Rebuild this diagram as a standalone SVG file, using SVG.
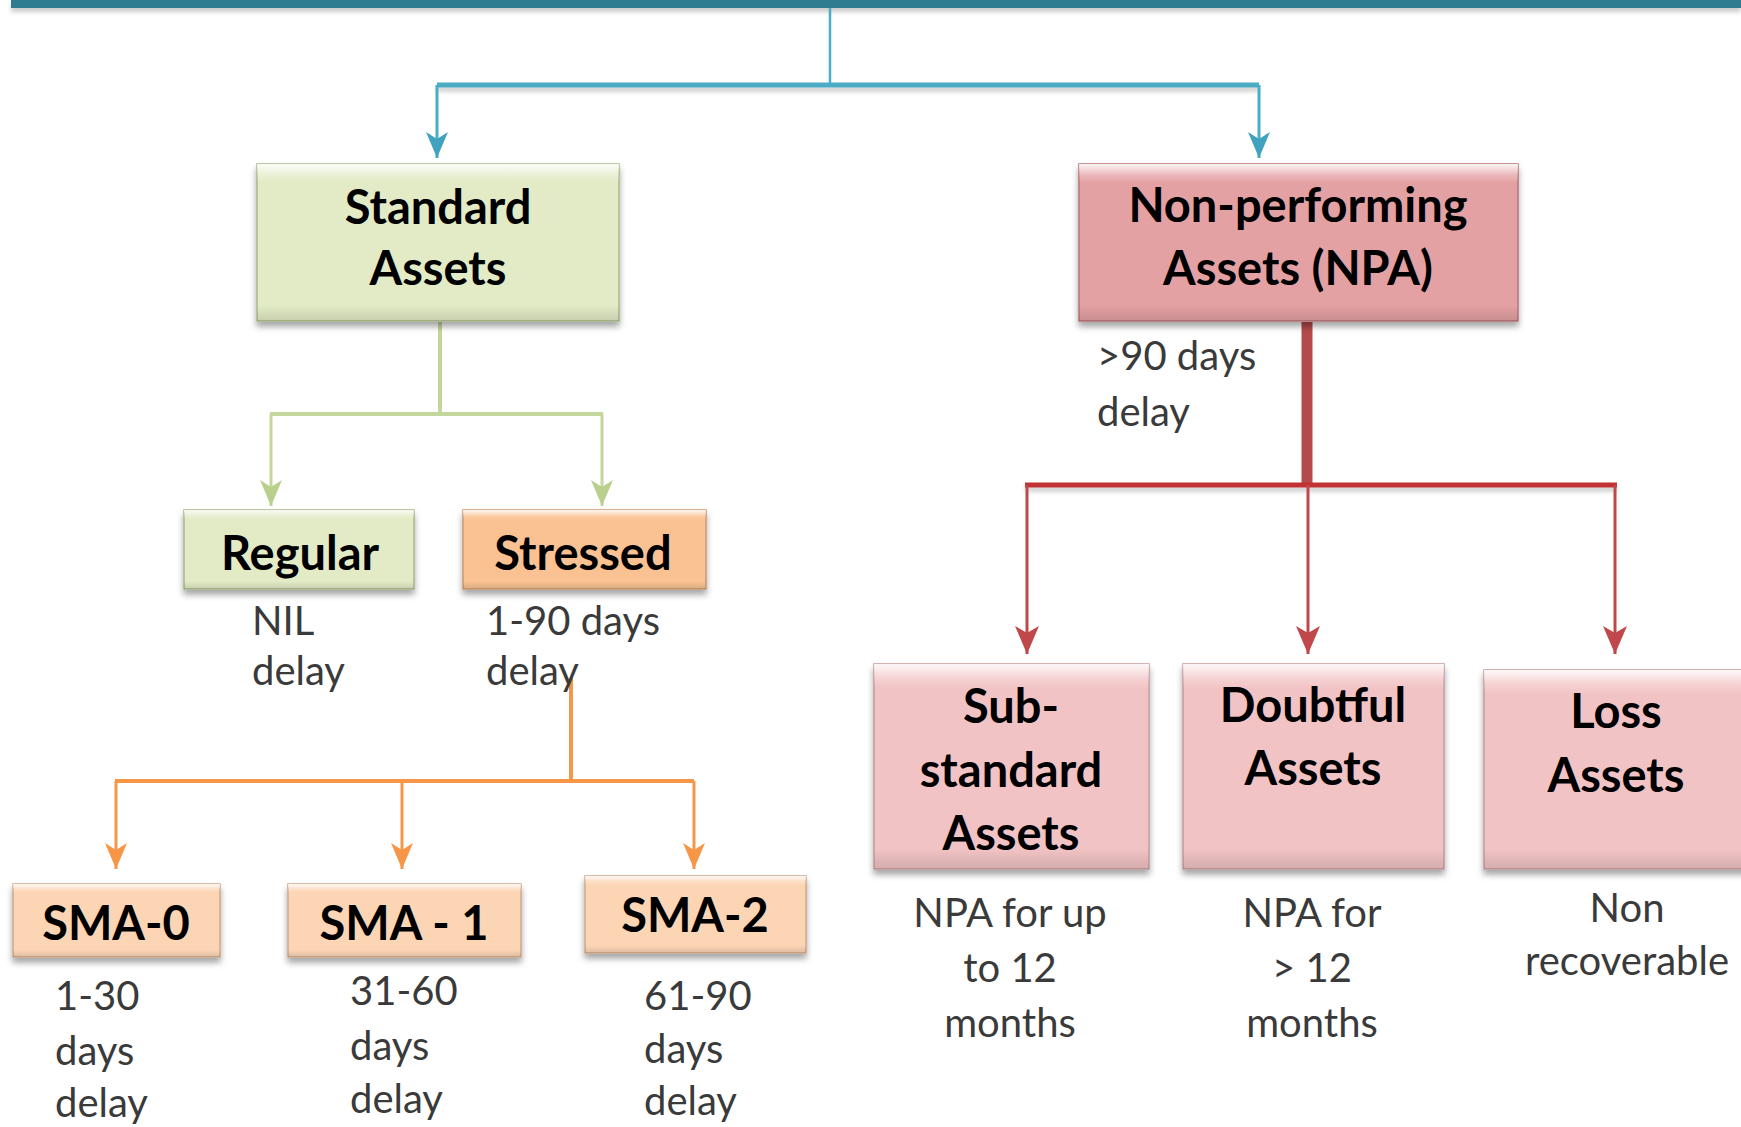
<svg xmlns="http://www.w3.org/2000/svg" width="1741" height="1127" viewBox="0 0 1741 1127">
<style>
.title{font-family:Lato,"Liberation Sans",sans-serif;font-weight:bold;font-size:47px;fill:#000;text-anchor:middle}
.lbl{font-family:Lato,"Liberation Sans",sans-serif;font-size:40px;fill:#3a3a3a}
.mid{text-anchor:middle}
.box{filter:url(#sh)}
.bev{fill:url(#bevel)}
.c{fill:none;stroke-linecap:butt}
</style>
<defs>
<filter id="sh" x="-10%" y="-10%" width="120%" height="130%">
<feDropShadow dx="0" dy="5" stdDeviation="3" flood-color="#000" flood-opacity="0.35"/>
</filter>
<filter id="lsh" filterUnits="userSpaceOnUse" x="0" y="0" width="1741" height="1127">
<feDropShadow dx="0" dy="4" stdDeviation="2" flood-color="#000" flood-opacity="0.2"/>
</filter>
<linearGradient id="bevel" x1="0" y1="0" x2="0" y2="1">
<stop offset="0" stop-color="#fff" stop-opacity="0.9"/>
<stop offset="0.07" stop-color="#fff" stop-opacity="0.25"/>
<stop offset="0.12" stop-color="#fff" stop-opacity="0"/>
<stop offset="0.9" stop-color="#000" stop-opacity="0"/>
<stop offset="1" stop-color="#000" stop-opacity="0.12"/>
</linearGradient>
<marker id="aB" markerUnits="userSpaceOnUse" markerWidth="28" markerHeight="24" refX="26" refY="12" orient="auto"><path d="M0,1 L26,12 L0,23 L7,12 Z" fill="#3FA3C0"/></marker>
<marker id="aG" markerUnits="userSpaceOnUse" markerWidth="28" markerHeight="24" refX="26" refY="12" orient="auto"><path d="M0,1 L26,12 L0,23 L7,12 Z" fill="#B8D08C"/></marker>
<marker id="aO" markerUnits="userSpaceOnUse" markerWidth="28" markerHeight="24" refX="26" refY="12" orient="auto"><path d="M0,1 L26,12 L0,23 L7,12 Z" fill="#F79646"/></marker>
<marker id="aR" markerUnits="userSpaceOnUse" markerWidth="30" markerHeight="26" refX="28" refY="13" orient="auto"><path d="M0,1 L28,13 L0,25 L7,13 Z" fill="#C0474A"/></marker>
</defs>
<rect width="1741" height="1127" fill="#fff"/>

<g id="connectors">
<rect x="11" y="0" width="1730" height="8" fill="#2D7B90" filter="url(#lsh)"/>
<path class="c" d="M830,8 V85" stroke="#4BACC6" stroke-width="2.5"/>
<path class="c" d="M437,85 H1259" stroke="#4BACC6" stroke-width="5" filter="url(#lsh)"/>
<path class="c" d="M437,85 V158" stroke="#4BACC6" stroke-width="3" marker-end="url(#aB)"/>
<path class="c" d="M1259,85 V158" stroke="#4BACC6" stroke-width="3" marker-end="url(#aB)"/>

<path class="c" d="M440,322 V414" stroke="#C3D69B" stroke-width="4"/>
<path class="c" d="M270,414 H603" stroke="#C3D69B" stroke-width="4"/>
<path class="c" d="M271,414 V506" stroke="#C3D69B" stroke-width="3" marker-end="url(#aG)"/>
<path class="c" d="M602,414 V506" stroke="#C3D69B" stroke-width="3" marker-end="url(#aG)"/>

<path class="c" d="M571,678 V781" stroke="#F79646" stroke-width="4"/>
<path class="c" d="M115,781 H694" stroke="#F79646" stroke-width="4"/>
<path class="c" d="M116,781 V869" stroke="#F79646" stroke-width="3" marker-end="url(#aO)"/>
<path class="c" d="M402,781 V869" stroke="#F79646" stroke-width="3" marker-end="url(#aO)"/>
<path class="c" d="M694,781 V869" stroke="#F79646" stroke-width="3" marker-end="url(#aO)"/>

<path class="c" d="M1307,322 V485" stroke="#B5494B" stroke-width="11"/>
<path class="c" d="M1025,485 H1617" stroke="#C13236" stroke-width="5" filter="url(#lsh)"/>
<path class="c" d="M1027,485 V654" stroke="#C0474A" stroke-width="3" marker-end="url(#aR)"/>
<path class="c" d="M1308,485 V654" stroke="#C0474A" stroke-width="3" marker-end="url(#aR)"/>
<path class="c" d="M1615,485 V654" stroke="#C0474A" stroke-width="3" marker-end="url(#aR)"/>
</g>

<g id="standard-assets">
<rect class="box" x="257" y="164" width="362" height="157" fill="#E2EBC6" stroke="#A8B88A" stroke-width="1.5"/>
<rect class="bev" x="257" y="164" width="362" height="157"/>
<text class="title" x="438" y="224">Standard</text>
<text class="title" x="438" y="285">Assets</text>
</g>

<g id="npa">
<rect class="box" x="1079" y="164" width="439" height="157" fill="#E4A1A3" stroke="#B97375" stroke-width="1.5"/>
<rect class="bev" x="1079" y="164" width="439" height="157"/>
<text class="title" x="1298" y="222">Non-performing</text>
<text class="title" x="1298" y="285">Assets (NPA)</text>
<text class="lbl" x="1097" y="370">&gt;90 days</text>
<text class="lbl" x="1097" y="426">delay</text>
</g>

<g id="regular">
<rect class="box" x="184" y="510" width="230" height="79" fill="#E2EBC6" stroke="#A8B88A" stroke-width="1.5"/>
<rect class="bev" x="184" y="510" width="230" height="79"/>
<text class="title" x="300" y="570">Regular</text>
<text class="lbl" x="252" y="635">NIL</text>
<text class="lbl" x="252" y="685">delay</text>
</g>

<g id="stressed">
<rect class="box" x="463" y="510" width="243" height="79" fill="#FAC292" stroke="#C99A70" stroke-width="1.5"/>
<rect class="bev" x="463" y="510" width="243" height="79"/>
<text class="title" x="583" y="570">Stressed</text>
<text class="lbl" x="486" y="635">1-90 days</text>
<text class="lbl" x="486" y="685">delay</text>
</g>

<g id="sma-0">
<rect class="box" x="13" y="884" width="207" height="73" fill="#FCD5B5" stroke="#CFA88A" stroke-width="1.5"/>
<rect class="bev" x="13" y="884" width="207" height="73"/>
<text class="title" x="116" y="940">SMA-0</text>
<text class="lbl" x="55" y="1010">1-30</text>
<text class="lbl" x="55" y="1065">days</text>
<text class="lbl" x="55" y="1117">delay</text>
</g>

<g id="sma-1">
<rect class="box" x="288" y="884" width="233" height="73" fill="#FCD5B5" stroke="#CFA88A" stroke-width="1.5"/>
<rect class="bev" x="288" y="884" width="233" height="73"/>
<text class="title" x="404" y="940">SMA - 1</text>
<text class="lbl" x="350" y="1005">31-60</text>
<text class="lbl" x="350" y="1060">days</text>
<text class="lbl" x="350" y="1113">delay</text>
</g>

<g id="sma-2">
<rect class="box" x="585" y="876" width="221" height="77" fill="#FCD5B5" stroke="#CFA88A" stroke-width="1.5"/>
<rect class="bev" x="585" y="876" width="221" height="77"/>
<text class="title" x="695" y="932">SMA-2</text>
<text class="lbl" x="644" y="1010">61-90</text>
<text class="lbl" x="644" y="1063">days</text>
<text class="lbl" x="644" y="1115">delay</text>
</g>

<g id="sub-standard">
<rect class="box" x="874" y="664" width="275" height="205" fill="#F2C3C5" stroke="#C49A9C" stroke-width="1.5"/>
<rect class="bev" x="874" y="664" width="275" height="205"/>
<text class="title" x="1011" y="723">Sub-</text>
<text class="title" x="1011" y="787">standard</text>
<text class="title" x="1011" y="850">Assets</text>
<text class="lbl mid" x="1010" y="927">NPA for up</text>
<text class="lbl mid" x="1010" y="982">to 12</text>
<text class="lbl mid" x="1010" y="1037">months</text>
</g>

<g id="doubtful">
<rect class="box" x="1183" y="664" width="261" height="205" fill="#F2C3C5" stroke="#C49A9C" stroke-width="1.5"/>
<rect class="bev" x="1183" y="664" width="261" height="205"/>
<text class="title" x="1313" y="722">Doubtful</text>
<text class="title" x="1313" y="785">Assets</text>
<text class="lbl mid" x="1312" y="927">NPA for</text>
<text class="lbl mid" x="1312" y="982">&gt; 12</text>
<text class="lbl mid" x="1312" y="1037">months</text>
</g>

<g id="loss">
<rect class="box" x="1484" y="670" width="280" height="199" fill="#F2C3C5" stroke="#C49A9C" stroke-width="1.5"/>
<rect class="bev" x="1484" y="670" width="280" height="199"/>
<text class="title" x="1616" y="728">Loss</text>
<text class="title" x="1616" y="792">Assets</text>
<text class="lbl mid" x="1627" y="922">Non</text>
<text class="lbl mid" x="1627" y="975">recoverable</text>
</g>
</svg>
